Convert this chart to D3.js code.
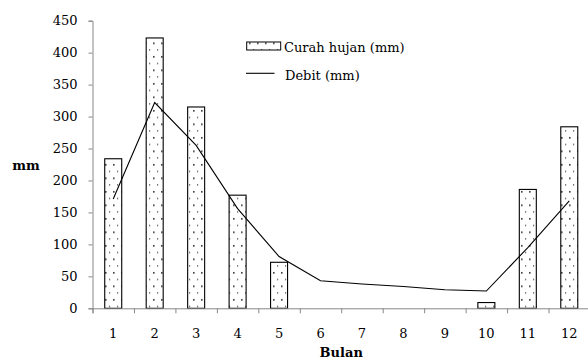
<!DOCTYPE html>
<html>
<head>
<meta charset="utf-8">
<script src="https://cdn.jsdelivr.net/npm/d3@7"></script>
<style>
  html, body { margin: 0; padding: 0; background: #fff; }
  svg { display: block; }
  text { font-family: "DejaVu Serif", serif; fill: #000; }
</style>
</head>
<body>
<svg id="chart" width="588" height="360"></svg>
<script>
const months = ["1","2","3","4","5","6","7","8","9","10","11","12"];
const curahHujan = [234, 423, 315, 177, 72, 0, 0, 0, 0, 9, 186, 284];
const debit = [171, 322, 255, 156, 81, 43, 38, 34, 29, 27, 95, 168];
const yTicks = [0, 50, 100, 150, 200, 250, 300, 350, 400, 450];
const seriesNames = ["Curah hujan (mm)", "Debit (mm)"];

(function () {
const svg = d3.select("#chart");
const mLeft = 92.5, mRight = 590, mTop = 20.7, mBottom = 308.3;

const x = d3.scaleBand().domain(months).range([mLeft, mRight]).padding(0);
const xEdges = d3.scaleLinear().domain([0, months.length]).range([mLeft, mRight]);
const y = d3.scaleLinear().domain([0, 450]).range([mBottom, mTop]);

// pattern
const defs = svg.append("defs");
const pat = defs.append("pattern")
  .attr("id", "dots")
  .attr("patternUnits", "userSpaceOnUse")
  .attr("width", 8).attr("height", 13.5);
pat.append("rect").attr("width", 8).attr("height", 13.5).attr("fill", "#fff");
pat.append("rect").attr("x", 1).attr("y", 2).attr("width", 1.6).attr("height", 1.6).attr("fill", "#333");
pat.append("rect").attr("x", 5).attr("y", 8.7).attr("width", 1.2).attr("height", 1.4).attr("fill", "#555");

// y axis
const yAxis = svg.append("g")
  .attr("transform", `translate(${mLeft},0)`)
  .call(d3.axisLeft(y).tickValues(yTicks).tickSize(4).tickPadding(11));
yAxis.select(".domain").attr("stroke", "#888");
yAxis.selectAll(".tick line").attr("stroke", "#888");
yAxis.selectAll("text").attr("font-size", 13).attr("font-family", "DejaVu Serif").attr("fill", "#000");

// bars
const bw = x.bandwidth() * 0.41;
svg.append("g").selectAll("rect")
  .data(months.map((m, i) => ({ m, v: curahHujan[i] })).filter(d => d.v > 0))
  .join("rect")
  .attr("x", d => x(d.m) + (x.bandwidth() - bw) / 2)
  .attr("y", d => y(d.v))
  .attr("width", bw)
  .attr("height", d => y(0) - y(d.v))
  .attr("fill", "url(#dots)")
  .attr("stroke", "#000")
  .attr("stroke-width", 1.1);

// x axis edges
const xAxis = svg.append("g")
  .attr("transform", `translate(0,${mBottom})`)
  .call(d3.axisBottom(xEdges).tickValues(d3.range(0, months.length + 1)).tickSize(5).tickFormat(""));
xAxis.select(".domain").attr("stroke", "#888");
xAxis.selectAll(".tick line").attr("stroke", "#888");

// x labels
const xLab = svg.append("g")
  .attr("transform", `translate(0,${mBottom})`)
  .call(d3.axisBottom(x).tickSize(0).tickPadding(20));
xLab.select(".domain").remove();
xLab.selectAll("text").attr("font-size", 13).attr("font-family", "DejaVu Serif").attr("fill", "#000");

// line
const line = d3.line()
  .x((d, i) => x(months[i]) + x.bandwidth() / 2)
  .y(d => y(d));
svg.append("path")
  .datum(debit)
  .attr("d", line)
  .attr("fill", "none")
  .attr("stroke", "#000")
  .attr("stroke-width", 1.1);

// axis titles
svg.append("text").attr("x", 26).attr("y", 170)
  .attr("text-anchor", "middle").attr("font-size", 13).attr("font-weight", "bold").text("mm");
svg.append("text").attr("x", (mLeft + mRight) / 2).attr("y", 356.5)
  .attr("text-anchor", "middle").attr("font-size", 13).attr("font-weight", "bold").text("Bulan");

// legend
const lg = svg.append("g");
lg.append("rect").attr("x", 246.7).attr("y", 42).attr("width", 34).attr("height", 8)
  .attr("fill", "url(#dots)").attr("stroke", "#000").attr("stroke-width", 1);
lg.append("text").attr("x", 284).attr("y", 51.5).attr("font-size", 13).text(seriesNames[0]);
lg.append("line").attr("x1", 246).attr("x2", 274.5).attr("y1", 73.3).attr("y2", 73.3)
  .attr("stroke", "#000").attr("stroke-width", 1.1);
lg.append("text").attr("x", 285).attr("y", 80).attr("font-size", 13).text(seriesNames[1]);
})();
</script>
</body>
</html>
